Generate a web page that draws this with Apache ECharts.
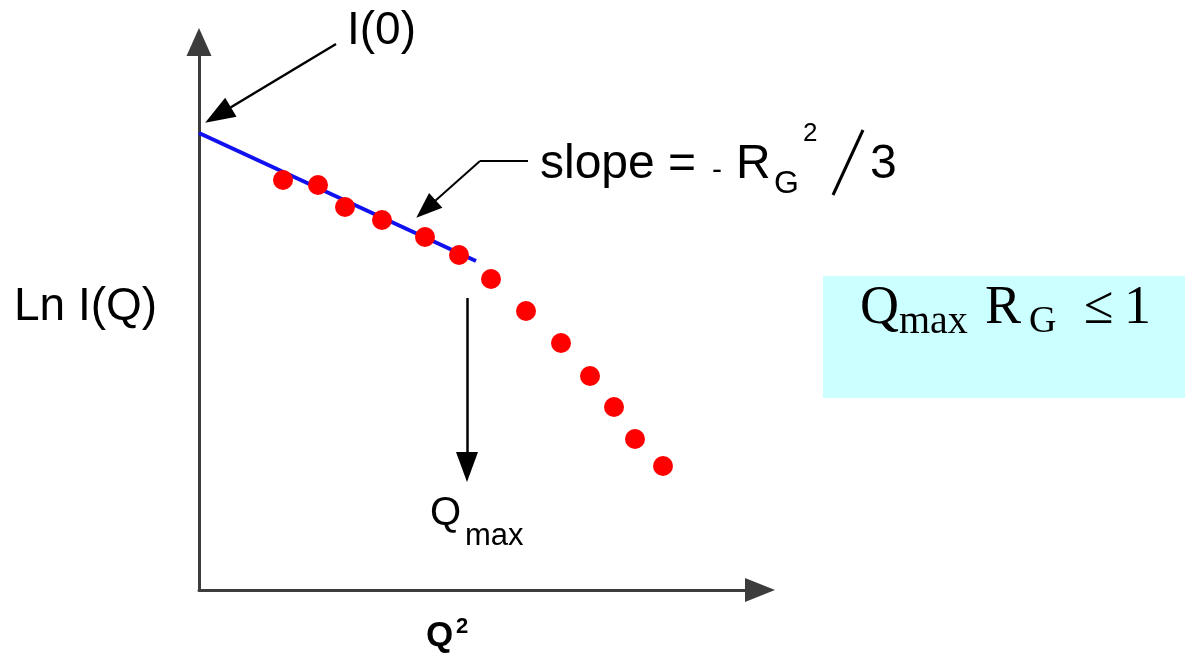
<!DOCTYPE html>
<html>
<head>
<meta charset="utf-8">
<script src="https://cdn.jsdelivr.net/npm/echarts@6/dist/echarts.min.js"></script>
<style>
  html, body { margin: 0; padding: 0; background: #fff; }
  #chart { width: 1185px; height: 653px; }
</style>
</head>
<body>
<div id="chart"></div>
<script>
// Guinier plot sketch: Ln I(Q) vs Q^2, arbitrary units
const qSquared = [84, 119, 146, 183, 226, 260, 292, 327, 362, 391, 415, 436, 464]
const lnIntensity = [410, 405, 383, 370, 353, 335, 311, 279, 247, 214, 183, 151, 124]

// straight-line fit over the Guinier region (up to Qmax)
const fitQSquared = [0, 277]
const fitLnIntensity = [457, 329]

// annotation arrows, in the same data units (end = centre of the arrow head)
const i0Arrow = [[137, 546], [19, 475]]
const slopeLeader = [[329, 429], [281, 429]]
const slopeArrow = [[281, 429], [227, 381]]
const qmaxArrow = [[268, 292], [268, 123]]

const SANS = 'Liberation Sans, Arial, sans-serif'
const SERIF = 'Liberation Serif, Times New Roman, serif'

const chart = echarts.init(document.getElementById('chart'))

function arrow(pair, size, width) {
  return [
    { coord: pair[0], symbol: 'none' },
    { coord: pair[1], symbol: 'triangle', symbolSize: size, lineStyle: { width: width } },
  ]
}

function txt(text, x, y, size, opts) {
  return {
    type: 'text',
    x: x,
    y: y,
    silent: true,
    style: Object.assign({
      text: text,
      font: size + 'px ' + SANS,
      fill: '#000',
      align: 'left',
      verticalAlign: 'middle',
    }, opts || {}),
  }
}

const option = {
  animation: false,
  backgroundColor: '#fff',
  grid: { left: 199, right: 425, top: 42, bottom: 63 },
  xAxis: {
    type: 'value',
    min: 0,
    max: 561,
    axisLine: {
      show: true,
      symbol: ['none', 'triangle'],
      symbolSize: [24, 30],
      lineStyle: { color: '#3c3c3c', width: 3 },
    },
    axisTick: { show: false },
    axisLabel: { show: false },
    splitLine: { show: false },
  },
  yAxis: {
    type: 'value',
    min: 0,
    max: 548,
    axisLine: {
      show: true,
      symbol: ['none', 'triangle'],
      symbolSize: [25, 28],
      lineStyle: { color: '#3c3c3c', width: 3 },
    },
    axisTick: { show: false },
    axisLabel: { show: false },
    splitLine: { show: false },
  },
  series: [
    {
      name: 'fit',
      type: 'line',
      data: fitQSquared.map((q, i) => [q, fitLnIntensity[i]]),
      showSymbol: false,
      lineStyle: { color: '#1010f0', width: 4 },
      silent: true,
      markLine: {
        silent: true,
        symbol: ['none', 'triangle'],
        label: { show: false },
        lineStyle: { color: '#000', type: 'solid', width: 2.5 },
        data: [
          arrow(i0Arrow, [22, 30], 2.5),
          arrow(slopeArrow, [20, 26], 2),
          [{ coord: slopeLeader[0], symbol: 'none' }, { coord: slopeLeader[1], symbol: 'none', lineStyle: { width: 2 } }],
          arrow(qmaxArrow, [22, 30], 2.5),
        ],
      },
    },
    {
      name: 'data',
      type: 'scatter',
      data: qSquared.map((q, i) => [q, lnIntensity[i]]),
      symbolSize: 20,
      itemStyle: { color: '#ff0000', opacity: 1 },
      z: 3,
    },
  ],
  graphic: [
    txt('I(0)', 347, 31, 46),
    txt('slope =', 540, 165, 48),
    txt('-', 712, 171, 30),
    txt('R', 736, 165, 48),
    txt('G', 774, 184, 32),
    txt('2', 803, 134, 26),
    {
      type: 'line',
      silent: true,
      shape: { x1: 833, y1: 195, x2: 863, y2: 130 },
      style: { stroke: '#000', lineWidth: 3 },
    },
    txt('3', 870, 165, 48),
    txt('Ln I(Q)', 14, 307, 46),
    txt('Q', 430, 514, 40),
    txt('max', 465, 536, 31),
    txt('Q', 426, 636, 35, { font: 'bold 35px ' + SANS }),
    txt('2', 456, 627, 22, { font: 'bold 22px ' + SANS }),
    {
      type: 'rect',
      silent: true,
      shape: { x: 823, y: 276, width: 362, height: 122 },
      style: { fill: '#ccffff' },
      z: -1,
    },
    txt('Q', 860, 309, 54, { font: '54px ' + SERIF }),
    txt('max', 899, 322, 40, { font: '40px ' + SERIF }),
    txt('R', 985, 309, 54, { font: '54px ' + SERIF }),
    txt('G', 1029, 322, 38, { font: '38px ' + SERIF }),
    txt('\u2264', 1084, 309, 54, { font: '54px ' + SERIF }),
    txt('1', 1124, 309, 54, { font: '54px ' + SERIF }),
  ],
}

chart.setOption(option)
</script>
</body>
</html>
